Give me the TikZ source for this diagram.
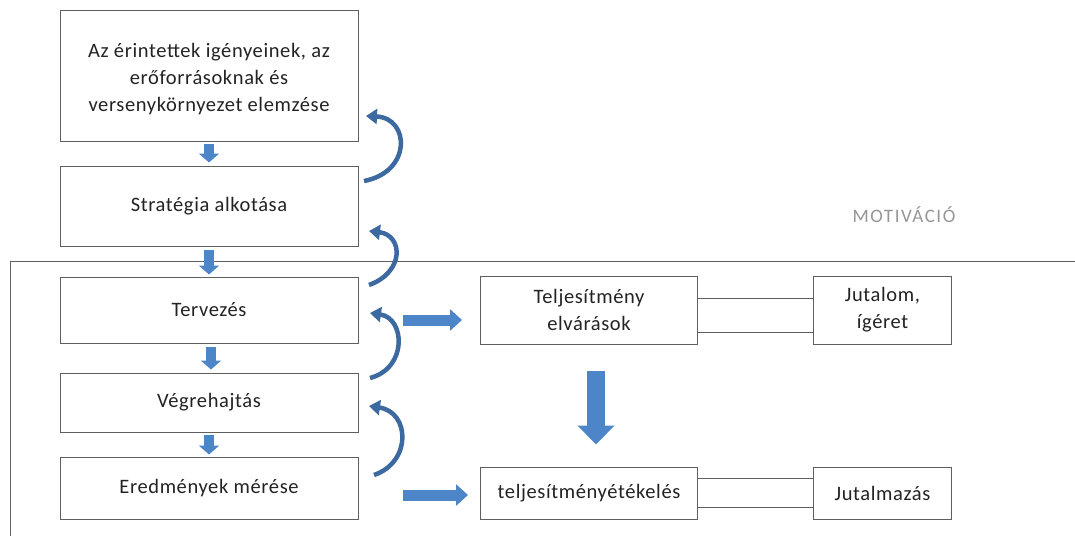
\documentclass[tikz,border=0pt]{standalone}
\usepackage{fontspec}
\setmainfont{Carlito}
\usetikzlibrary{arrows.meta}
\definecolor{boxline}{RGB}{95,95,95}
\definecolor{txt}{RGB}{35,35,35}
\definecolor{ablue}{RGB}{76,134,200}
\definecolor{cblue}{RGB}{60,105,160}
\definecolor{mot}{RGB}{150,150,150}
\tikzset{
  box/.style={draw=boxline, line width=1pt, fill=white, text=txt, align=center,
    font=\fontsize{20.5}{27}\selectfont\addfontfeatures{LetterSpace=3}, inner sep=0pt},
  downarr/.style={ablue, line width=10pt, -{Triangle[length=9pt,width=20pt]}},
  bigdown/.style={ablue, line width=18pt, -{Triangle[length=19pt,width=36pt]}},
  rightarr/.style={ablue, line width=11pt, -{Triangle[length=12pt,width=21pt]}},
  curv/.style={cblue, line width=4.5pt, -{Triangle[length=11pt,width=15pt]}},
  pair/.style={draw=boxline, line width=1pt},
}
\begin{document}
\begin{tikzpicture}[x=1pt,y=-1pt]
\useasboundingbox (0,0) rectangle (1075,536);
\fill[white] (0,0) rectangle (1075,536);
% frame
\coordinate (fbl) at (10,536);
\coordinate (ftl) at (10,261);
\coordinate (ftr) at (1075,261);
\draw[boxline, line width=1pt] (fbl) -- (ftl) -- (ftr);
% left column
\node[box, minimum width=298pt, minimum height=131pt, text depth=0pt] (b1) at (209,75.5) {};
\node[box, draw=none, fill=none] (b1t) at (209,79)
  {Az érintettek igényeinek, az\\erőforrásoknak és\\versenykörnyezet elemzése};
\node[box, minimum width=298pt, minimum height=80pt] (b2) at (209,206) {Stratégia alkotása};
\node[box, minimum width=298pt, minimum height=66pt] (b3) at (209,310) {Tervezés};
\node[box, minimum width=298pt, minimum height=59pt] (b4) at (209,402.5) {Végrehajtás};
\node[box, minimum width=298pt, minimum height=62pt] (b5) at (209,488) {Eredmények mérése};
% right side
\node[box, minimum width=217pt, minimum height=68pt] (b6) at (589,310) {Teljesítmény\\elvárások};
\node[box, minimum width=138pt, minimum height=68pt] (b7) at (882.5,310) {Jutalom,\\ígéret};
\node[box, minimum width=217pt, minimum height=52pt] (b8) at (589,493) {teljesítményétékelés};
\node[box, minimum width=138pt, minimum height=52pt] (b9) at (882.5,493) {Jutalmazás};
\node[text=mot, font=\fontsize{19}{22}\selectfont\addfontfeatures{LetterSpace=8}] (mot) at (904,215) {MOTIVÁCIÓ};
% double lines
\draw[pair] ([yshift=12pt]b6.east) -- ([yshift=12pt]b7.west);
\draw[pair] ([yshift=-22pt]b6.east) -- ([yshift=-22pt]b7.west);
\draw[pair] ([yshift=15pt]b8.east) -- ([yshift=15pt]b9.west);
\draw[pair] ([yshift=-14pt]b8.east) -- ([yshift=-14pt]b9.west);
% down arrows
\draw[downarr] ([yshift=-2pt]b1.south) -- ([yshift=3pt]b2.north);
\draw[downarr] ([yshift=-3pt]b2.south) -- ([yshift=2pt]b3.north);
\draw[downarr] ([xshift=2pt,yshift=-3pt]b3.south) -- ([xshift=2pt,yshift=3pt]b4.north);
\draw[downarr] ([yshift=-2pt]b4.south) -- ([yshift=2pt]b5.north);
\draw[bigdown] ([xshift=7pt,yshift=-26pt]b6.south) -- ([xshift=7pt,yshift=22pt]b8.north);
% right arrows
\coordinate (r1s) at (403,320); \coordinate (r1e) at (462,320);
\coordinate (r2s) at (403,495); \coordinate (r2e) at (468,495);
\draw[rightarr] (r1s) -- (r1e);
\draw[rightarr] (r2s) -- (r2e);
% curved arrows
\coordinate (c1s) at (364,181); \coordinate (c1e) at (366,116);
\coordinate (c2s) at (369,285); \coordinate (c2e) at (369,231);
\coordinate (c3s) at (370,378); \coordinate (c3e) at (370,313);
\coordinate (c4s) at (374,475); \coordinate (c4e) at (369,406);
\draw[curv] (c1s) .. controls (412,172) and (410,118) .. (c1e);
\draw[curv] (c2s) .. controls (405,272) and (403,235) .. (c2e);
\draw[curv] (c3s) .. controls (408,368) and (405,318) .. (c3e);
\draw[curv] (c4s) .. controls (412,462) and (410,412) .. (c4e);
\end{tikzpicture}
\end{document}
